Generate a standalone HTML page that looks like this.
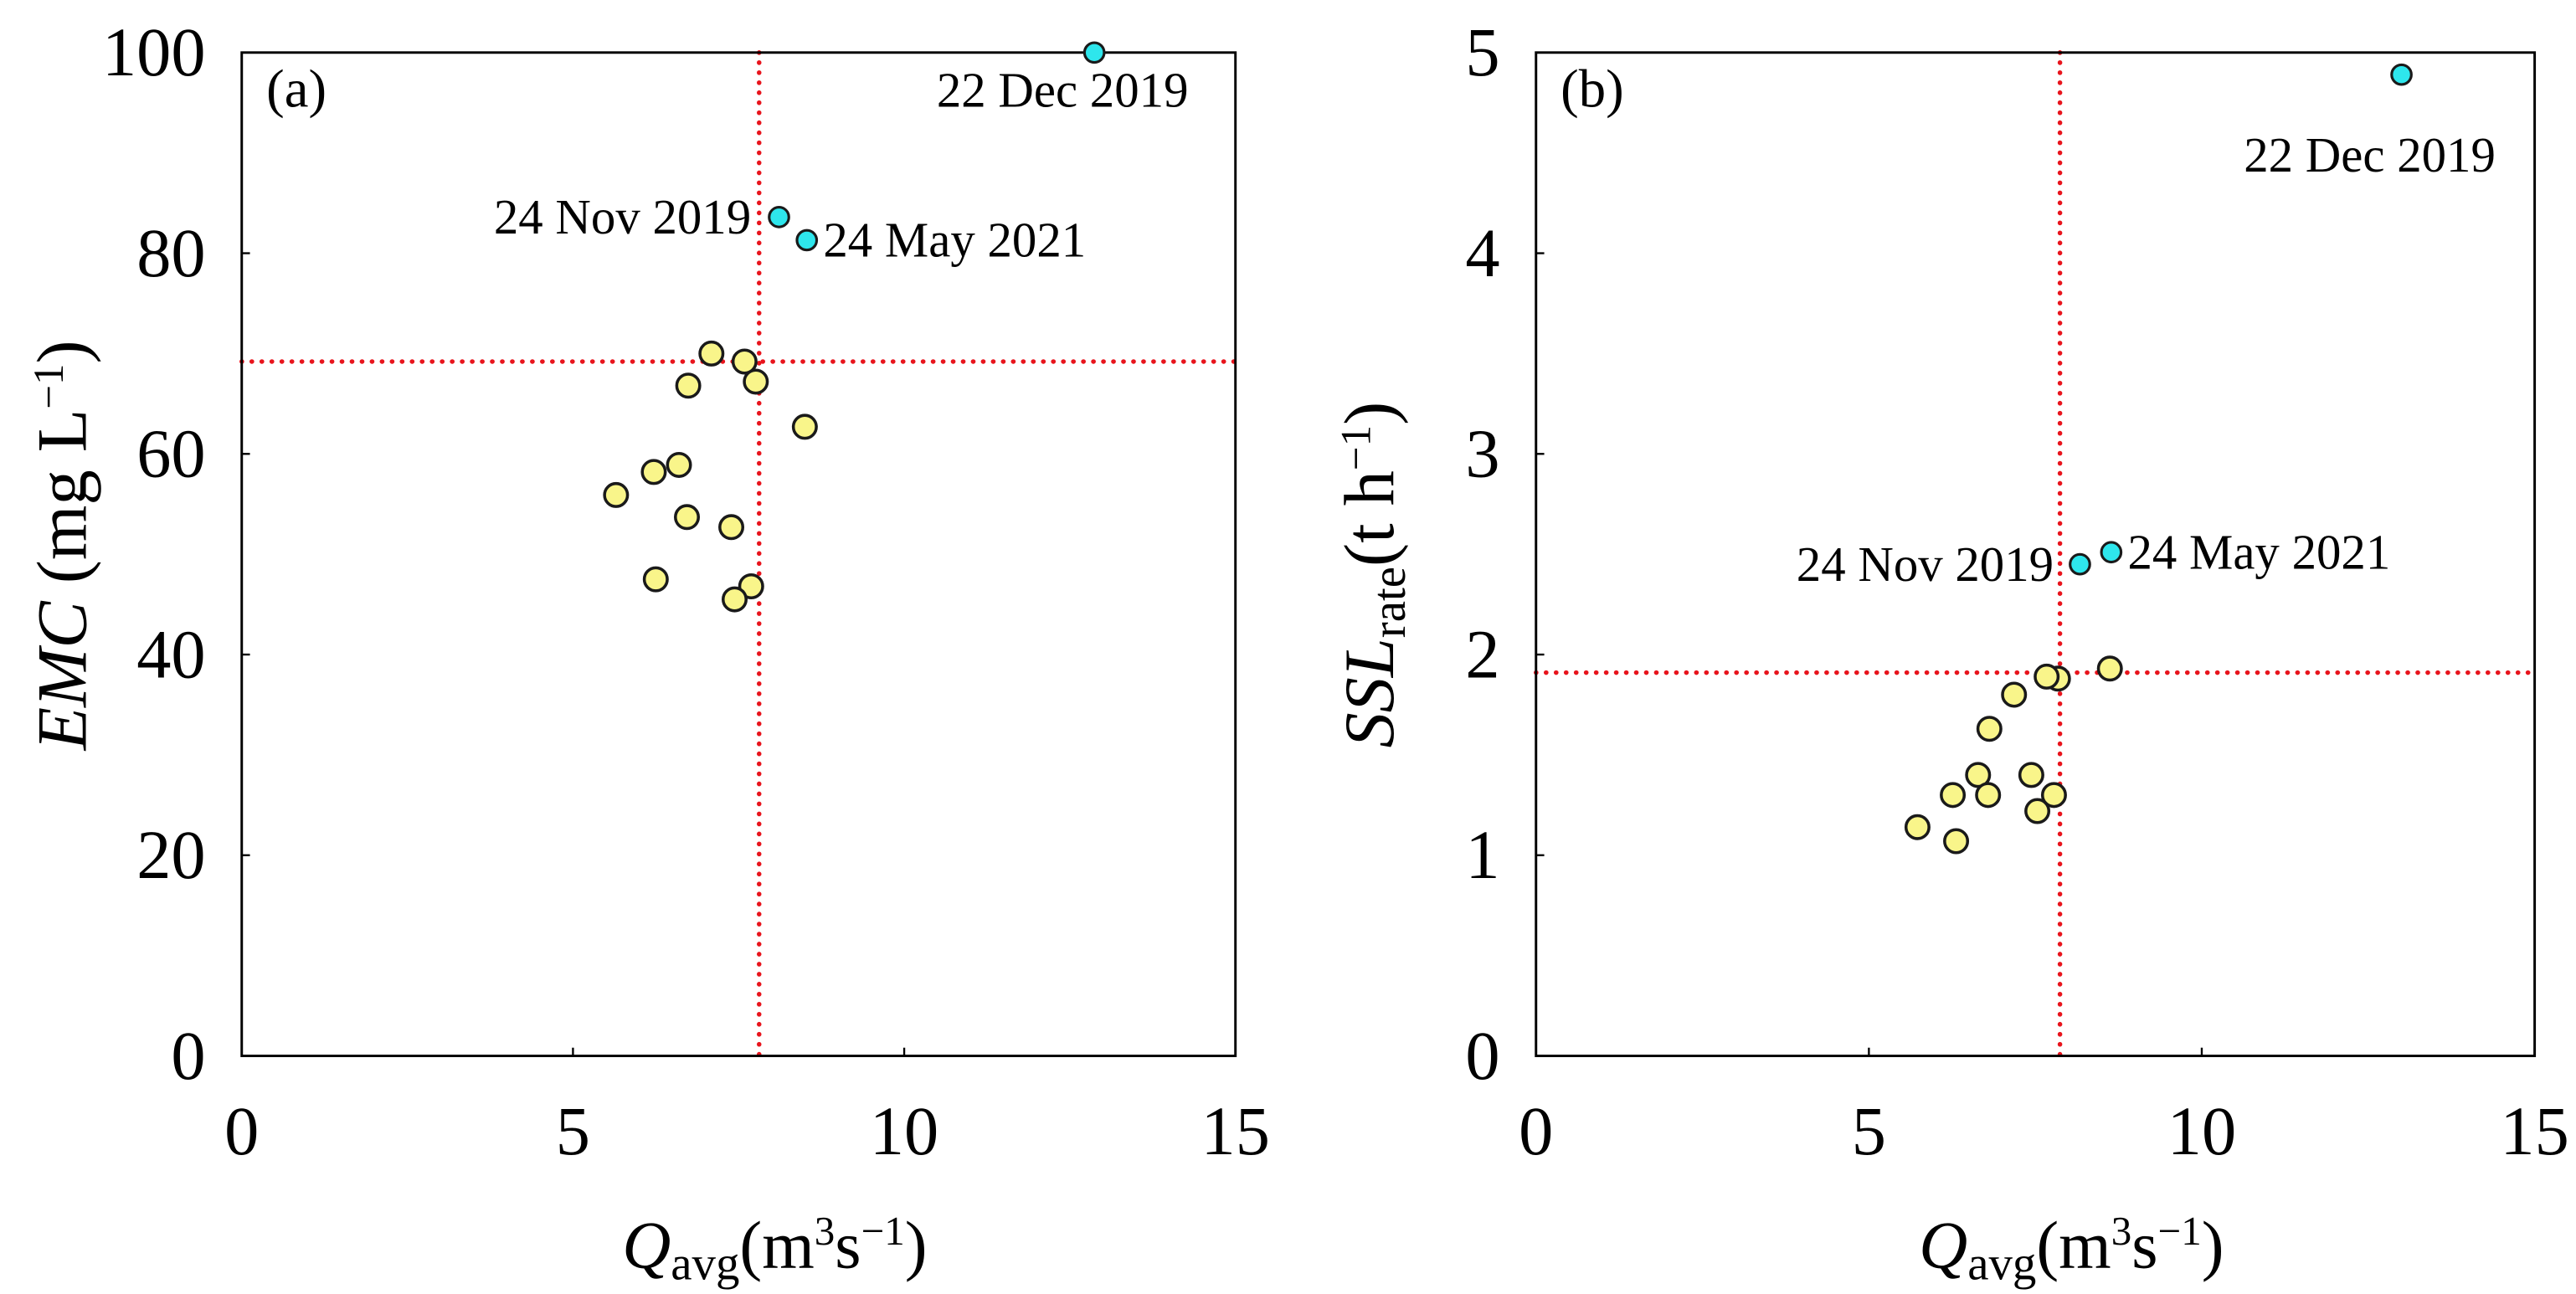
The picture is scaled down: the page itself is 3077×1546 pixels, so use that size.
<!DOCTYPE html>
<html><head><meta charset="utf-8"><style>
html,body{margin:0;padding:0;background:#fff;}
svg{display:block;}
text{font-family:"Liberation Serif",serif;fill:#000;}
</style></head><body>
<svg id="chart" width="3077" height="1546" viewBox="0 0 1568 788" xmlns="http://www.w3.org/2000/svg"></svg>
<script>
const aX=[7.09,7.59,7.76,6.74,8.50,6.60,6.22,5.65,6.72,7.39,6.25,7.69,7.44];
const aY=[70.0,69.2,67.2,66.8,62.7,58.9,58.2,55.9,53.7,52.7,47.5,46.8,45.5];
const aHiX=[8.11,8.53,12.87];
const aHiY=[83.6,81.3,100];
const bX=[8.62,7.84,7.67,7.18,6.81,6.64,7.44,6.26,6.79,7.78,7.53,5.73,6.31];
const bY=[1.93,1.88,1.89,1.80,1.63,1.40,1.40,1.30,1.30,1.30,1.22,1.14,1.07];
const bHiX=[8.17,8.64,13.0];
const bHiY=[2.45,2.51,4.89];
const hiLabels=["24 Nov 2019","24 May 2021","22 Dec 2019"];
const xTicks=[0,5,10,15];
const aYTicks=[0,20,40,60,80,100];
const bYTicks=[0,1,2,3,4,5];
const aRef=[7.81,69.2];
const bRef=[7.87,1.91];

const NS="http://www.w3.org/2000/svg";
const svg=document.getElementById('chart');
function el(t,a,p){const e=document.createElementNS(NS,t);for(const k in a)e.setAttribute(k,a[k]);(p||svg).appendChild(e);return e;}

function panel(o){
  const g=el('g',{});
  
  
  const L=o.left,R=o.right,T=32,B=643;
  const sx=v=>L+(v-0)/(15-0)*(R-L);
  const sy=v=>B-(v/o.ymax)*(B-T);
  const vl=el('line',{x1:sx(o.ref[0]),x2:sx(o.ref[0]),y1:T,y2:B,stroke:'#e8141c','stroke-width':2.8,'stroke-dasharray':'0.1 6','stroke-linecap':'round'},g);
  
  
  const hl=el('line',{x1:L,x2:R,y1:sy(o.ref[1]),y2:sy(o.ref[1]),stroke:'#e8141c','stroke-width':2.8,'stroke-dasharray':'0.1 6','stroke-linecap':'round'},g);
  
  
  const fr=el('rect',{x:L,y:T,width:R-L,height:B-T,fill:'none',stroke:'#000','stroke-width':1.5},g);
  
  
  xTicks.forEach(v=>{
    el('line',{x1:sx(v),x2:sx(v),y1:B,y2:B-5,stroke:'#000','stroke-width':1.2},g);
    const t=el('text',{x:sx(v),y:B+60,'font-size':42,'text-anchor':'middle'},g);t.textContent=v;
    
    
  });
  o.yTicks.forEach(v=>{
    el('line',{x1:L,x2:L+5,y1:sy(v),y2:sy(v),stroke:'#000','stroke-width':1.2},g);
    const t=el('text',{x:L-22,y:sy(v)+14,'font-size':42,'text-anchor':'end'},g);t.textContent=v;
    
    
  });
  o.xs.forEach((x,i)=>{
    const c=el('circle',{cx:sx(x),cy:sy(o.ys[i]),r:7,fill:'#f9f58a',stroke:'#1a1a1a','stroke-width':1.8},g);
    
    
  });
  o.hx.forEach((x,i)=>{
    const c=el('circle',{cx:sx(x),cy:sy(o.hy[i]),r:6,fill:'#2ee6ec',stroke:'#1a1a1a','stroke-width':1.6},g);
    
    
    const lo=o.lab[i];
    const t=el('text',{x:sx(x)+lo[0],y:sy(o.hy[i])+lo[1],'font-size':30,'text-anchor':lo[2]},g);
    t.textContent=hiLabels[i];
    
    
  });
  const pl=el('text',{x:L+15,y:T+33,'font-size':33},g);pl.textContent=o.tag;
  
  
  const xt=el('text',{x:(L+R)/2+22,y:772,'font-size':41,'text-anchor':'middle'},g);
  xt.innerHTML='<tspan font-style="italic">Q</tspan><tspan font-size="29" dy="7">avg</tspan><tspan dy="-7">(m</tspan><tspan font-size="25" dy="-14">3</tspan><tspan dy="14">s</tspan><tspan font-size="25" dy="-14">−1</tspan><tspan dy="14">)</tspan>';
  
  
  const yt=el('text',{transform:`translate(${o.ytx},${o.ytc}) rotate(-90)`,'font-size':43,'text-anchor':'middle'},g);
  yt.innerHTML=o.ytitle;
  
  
}
panel({name:'panel-a',left:147,right:752,ymax:100,yTicks:aYTicks,xs:aX,ys:aY,hx:aHiX,hy:aHiY,ref:aRef,tag:'(a)',ytx:52,ytc:332,
  lab:[[-17,10,'end'],[10,10,'start'],[-96,33,'start']],
  ytitle:'<tspan font-style="italic">EMC</tspan> (mg L<tspan font-size="26" dy="-14">−1</tspan><tspan dy="14">)</tspan>'});
panel({name:'panel-b',left:935,right:1543,ymax:5,yTicks:bYTicks,xs:bX,ys:bY,hx:bHiX,hy:bHiY,ref:bRef,tag:'(b)',ytx:848,ytc:350,
  lab:[[-16,10,'end'],[10,10,'start'],[-96,59,'start']],
  ytitle:'<tspan font-style="italic">SSL</tspan><tspan font-size="29" dy="7">rate</tspan><tspan dy="-7">(t h</tspan><tspan font-size="26" dy="-14">−1</tspan><tspan dy="14">)</tspan>'});
</script>
</body></html>
